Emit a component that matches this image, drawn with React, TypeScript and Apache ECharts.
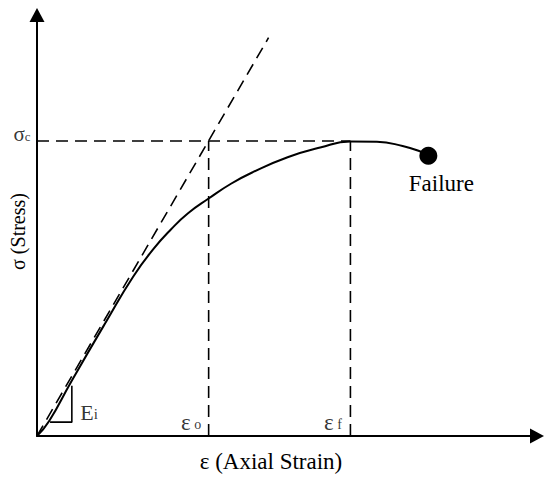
import React, { useEffect, useRef } from "react";
import * as echarts from "echarts";

// Normalised units: x = strain / εo, y = stress / σc
const X_MAX = 2.913;
const Y_MAX = 1.427;
const EPS_O = 1.0;
const EPS_F = 1.826;
const SIGMA_C = 1.0;

const CURVE_X = [0, 0.07, 0.2, 0.4, 0.56, 0.68, 0.78, 0.88, 1.0, 1.13, 1.26, 1.46, 1.65, 1.826, 1.98, 2.13, 2.23, 2.28];
const CURVE_Y = [0, 0.05, 0.185, 0.385, 0.54, 0.635, 0.7, 0.755, 0.805, 0.855, 0.895, 0.945, 0.978, 0.998, 0.997, 0.983, 0.965, 0.95];

const TANGENT_X = [0, 1.349];
const TANGENT_Y = [0, 1.35];

const EI_X = [0.076, 0.203, 0.203];
const EI_Y = [0.047, 0.047, 0.17];

const FAILURE = [2.28, 0.95];

const SERIF = "'Liberation Serif', 'DejaVu Serif', serif";

export default function App() {
  const ref = useRef<HTMLDivElement>(null);
  useEffect(() => {
    if (!ref.current) return;
    const chart = echarts.init(ref.current, undefined, { renderer: "svg" });
    const black = "#000000";
    const dashed = { color: black, width: 1.6, type: [12, 7] as any };
    const zip = (xs: number[], ys: number[]) => xs.map((x, i) => [x, ys[i]]);
    const txt = (size: number, extra: any = {}) => ({
      fontSize: size,
      fontFamily: SERIF,
      fontWeight: "normal",
      color: black,
      textBorderWidth: 0,
      textShadowBlur: 0,
      ...extra,
    });
    const annot = (name: string, pt: number[], label: any) => ({
      type: "scatter",
      name,
      data: [pt],
      symbolSize: 1,
      itemStyle: { color: "rgba(0,0,0,0)" },
      label: { show: true, ...txt(16), ...label },
      silent: true,
    });
    chart.setOption({
      animation: false,
      backgroundColor: "#ffffff",
      grid: { left: 36, right: 7, top: 15, bottom: 35 },
      xAxis: {
        type: "value",
        min: 0,
        max: X_MAX,
        axisLine: {
          show: true,
          symbol: ["none", "triangle"],
          symbolSize: [15, 14],
          lineStyle: { color: black, width: 2 },
        },
        axisTick: { show: false },
        axisLabel: { show: false },
        splitLine: { show: false },
        name: "ε (Axial Strain)",
        nameLocation: "middle",
        nameGap: 14,
        nameTextStyle: txt(23, { padding: [0, 32, 0, 0] }),
      },
      yAxis: {
        type: "value",
        min: 0,
        max: Y_MAX,
        axisLine: {
          show: true,
          symbol: ["none", "triangle"],
          symbolSize: [15, 14],
          lineStyle: { color: black, width: 2 },
        },
        axisTick: { show: false },
        axisLabel: { show: false },
        splitLine: { show: false },
        name: "σ (Stress)",
        nameLocation: "middle",
        nameGap: 9,
        nameRotate: 90,
        nameTextStyle: txt(20, { padding: [0, 12, 0, 0] }),
      },
      series: [
        {
          type: "line",
          name: "curve",
          data: zip(CURVE_X, CURVE_Y),
          smooth: 0.5,
          showSymbol: false,
          lineStyle: { color: black, width: 2 },
        },
        {
          type: "line",
          name: "tangent",
          data: zip(TANGENT_X, TANGENT_Y),
          showSymbol: false,
          lineStyle: dashed,
        },
        {
          type: "line",
          name: "sigma_c",
          data: [[0, SIGMA_C], [EPS_F, SIGMA_C]],
          showSymbol: false,
          lineStyle: dashed,
        },
        {
          type: "line",
          name: "eps_o",
          data: [[EPS_O, 0], [EPS_O, SIGMA_C]],
          showSymbol: false,
          lineStyle: dashed,
        },
        {
          type: "line",
          name: "eps_f",
          data: [[EPS_F, 0], [EPS_F, SIGMA_C]],
          showSymbol: false,
          lineStyle: dashed,
        },
        {
          type: "line",
          name: "Ei",
          data: zip(EI_X, EI_Y),
          showSymbol: false,
          lineStyle: { color: black, width: 1.6 },
        },
        {
          type: "scatter",
          name: "Failure",
          data: [FAILURE],
          symbolSize: 18,
          itemStyle: { color: black, opacity: 1 },
          label: {
            show: true,
            formatter: "Failure",
            position: "bottom",
            distance: 7,
            offset: [13, 0],
            ...txt(23),
          },
        },
        annot("sigma_c_label", [0, SIGMA_C], {
          formatter: "{a|σ}{b|c}",
          position: "left",
          distance: 6,
          offset: [0, -7],
          rich: {
            a: txt(21),
            b: txt(13, { padding: [5, 0, 0, 0] }),
          },
        }),
        annot("eps_o_label", [EPS_O, 0.047], {
          formatter: "{a|ε}{b| o}",
          position: "left",
          distance: 7,
          rich: {
            a: txt(23),
            b: txt(14, { padding: [4, 0, 0, 0] }),
          },
        }),
        annot("eps_f_label", [EPS_F, 0.047], {
          formatter: "{a|ε}{b| f}",
          position: "left",
          distance: 8,
          rich: {
            a: txt(23),
            b: txt(14, { padding: [4, 0, 0, 0] }),
          },
        }),
        annot("Ei_label", [0.203, 0.08], {
          formatter: "{a|E}{b|i}",
          position: "right",
          distance: 8,
          rich: {
            a: txt(22),
            b: txt(15, { padding: [4, 0, 0, 0] }),
          },
        }),
      ],
    });
    return () => chart.dispose();
  }, []);
  return (
    <div
      ref={ref}
      style={{ position: "fixed", left: 0, top: 0, width: 544, height: 478 }}
    />
  );
}
